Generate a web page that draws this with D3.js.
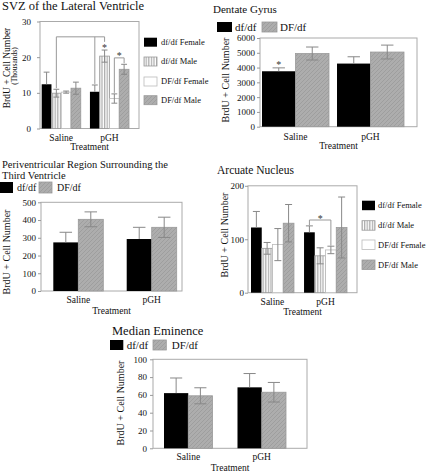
<!DOCTYPE html>
<html><head><meta charset="utf-8">
<script src="https://cdn.jsdelivr.net/npm/d3@7"></script>
<style>body{margin:0;background:#fff}svg{display:block}</style>
</head><body>
<script>
// ---------------- DATA ----------------
const categories = ["Saline", "pGH"];
const seriesFour = ["df/df Female", "df/df Male", "DF/df Female", "DF/df Male"];
const seriesTwo = ["df/df", "DF/df"];

// SVZ of the Lateral Ventricle (thousands) - [series][category]
const svzMeans = [[12.4, 10.3], [9.9, 20.3], [10.2, 8.4], [11.3, 16.6]];
const svzErrors = [[3.4, 1.9], [1.1, 1.7], [0.3, 1.3], [1.7, 1.4]];
const svzTicks = [0, 10, 20, 30];

// Dentate Gyrus
const dgMeans = [[3750, 4270], [4950, 5050]];
const dgErrors = [[230, 460], [440, 470]];
const dgTicks = [0, 1000, 2000, 3000, 4000, 5000, 6000];

// Periventricular Region
const pvMeans = [[274, 293], [404, 359]];
const pvErrors = [[57, 66], [42, 57]];
const pvTicks = [0, 100, 200, 300, 400, 500];

// Arcuate Nucleus
const arcMeans = [[122, 113], [83, 69], [90, 80], [130, 122]];
const arcErrors = [[30, 12], [11, 15], [30, 7], [35, 57]];
const arcTicks = [0, 100, 200];

// Median Eminence
const meMeans = [[62, 68.5], [59, 63]];
const meErrors = [[17, 15.5], [9, 11]];
const meTicks = [0, 20, 40, 60, 80, 100];

// significance annotations (data units)
const svzBrackets = [
  {y: 25.7, legs: [{c: "Saline", s: 1, to: 11.3}, {c: "pGH", s: 0, to: 12.5}, {c: "pGH", s: 1, to: 24.3}], star: {c: "pGH", s: 1, y: 23.0}},
  {y: 19.8, legs: [{c: "pGH", s: 2, to: 10.0}, {c: "pGH", s: 3, to: 18.3}], star: {y: 20.8}}
];
const dgBrackets = [{legs: [], star: {c: "Saline", s: 0, y: 4330}}];
const arcBrackets = [
  {y: 136, legs: [{c: "pGH", s: 0, to: 126}, {c: "pGH", s: 2, to: 88}], star: {y: 142}}
];

// ---------------- DRAW ----------------
const W = 427, H = 472;
const svg = d3.select("body").append("svg").attr("width", W).attr("height", H)
  .style("font-family", "'Liberation Serif','Times New Roman',Times,serif");

const defs = svg.append("defs");
const vs = defs.append("pattern").attr("id", "vstripe").attr("patternUnits", "userSpaceOnUse")
  .attr("width", 2.6).attr("height", 4);
vs.append("rect").attr("width", 2.6).attr("height", 4).attr("fill", "#fff");
vs.append("line").attr("x1", 0.7).attr("x2", 0.7).attr("y1", 0).attr("y2", 4)
  .attr("stroke", "#8c8c8c").attr("stroke-width", 0.9);
const ht = defs.append("pattern").attr("id", "hatch").attr("patternUnits", "userSpaceOnUse")
  .attr("width", 4).attr("height", 4);
ht.append("rect").attr("width", 4).attr("height", 4).attr("fill", "#adadad");
ht.append("path").attr("d", "M-1,1 l2,-2 M0,4 l4,-4 M3,5 l2,-2")
  .attr("stroke", "#9b9b9b").attr("stroke-width", 0.8);

const styleFour = [
  {fill: "#000", stroke: "none", upOnly: true},
  {fill: "url(#vstripe)", stroke: "#999"},
  {fill: "#fff", stroke: "#bbb"},
  {fill: "url(#hatch)", stroke: "#999"}
];
const styleTwo = [styleFour[0], styleFour[3]];

function panel(o) {
  const g = svg.append("g");
  const x0 = d3.scaleBand().domain(categories).range(o.groupRange).paddingInner(o.pad);
  const x1 = d3.scaleBand().domain(d3.range(o.series.length)).range([0, x0.bandwidth()]);
  const y = d3.scaleLinear().domain([0, d3.max(o.ticks)]).range([o.fy1, o.fy0]);
  const bx = (c, s) => x0(c) + x1(s) + x1.bandwidth() / 2;

  // frame
  g.append("rect").attr("x", o.fx0).attr("y", y(d3.max(o.ticks)))
    .attr("width", o.fx1 - o.fx0).attr("height", y(0) - y(d3.max(o.ticks)))
    .attr("fill", "none").attr("stroke", "#aaa").attr("stroke-width", 1);

  // y axis
  const ax = g.append("g").attr("transform", `translate(${o.fx0},0)`)
    .call(d3.axisLeft(y).tickValues(o.ticks).tickSize(3).tickPadding(o.tp).tickFormat(d3.format("d")));
  ax.select(".domain").remove();
  ax.selectAll("line").attr("stroke", "#999");
  ax.selectAll("text").attr("font-size", o.tickFs || 9).attr("fill", "#111")
    .style("font-family", "'Liberation Serif','Times New Roman',serif");

  // bars
  o.series.forEach((sn, si) => {
    const st = o.styles[si];
    categories.forEach((c, ci) => {
      const v = o.means[si][ci];
      g.append("rect").attr("x", x0(c) + x1(si)).attr("y", y(v))
        .attr("width", x1.bandwidth()).attr("height", y(0) - y(v))
        .attr("fill", st.fill).attr("stroke", st.stroke).attr("stroke-width", 0.8);
    });
  });
  // error bars
  o.series.forEach((sn, si) => {
    const st = o.styles[si];
    categories.forEach((c, ci) => {
      const v = o.means[si][ci], e = o.errors[si][ci];
      const cx = bx(c, si), hw = x1.bandwidth() * o.cap / 2;
      const lo = st.upOnly ? v : v - e, hi = v + e;
      g.append("line").attr("x1", cx).attr("x2", cx).attr("y1", y(lo)).attr("y2", y(hi))
        .attr("stroke", "#888").attr("stroke-width", 1);
      g.append("line").attr("x1", cx - hw).attr("x2", cx + hw).attr("y1", y(hi)).attr("y2", y(hi))
        .attr("stroke", "#888").attr("stroke-width", 1);
      if (!st.upOnly)
        g.append("line").attr("x1", cx - hw).attr("x2", cx + hw).attr("y1", y(lo)).attr("y2", y(lo))
          .attr("stroke", "#888").attr("stroke-width", 1);
    });
  });

  // brackets & stars
  (o.brackets || []).forEach(b => {
    const xs = b.legs.map(l => bx(l.c, l.s));
    if (b.legs.length) {
      g.append("line").attr("x1", d3.min(xs)).attr("x2", d3.max(xs)).attr("y1", y(b.y)).attr("y2", y(b.y))
        .attr("stroke", "#999").attr("stroke-width", 1);
      b.legs.forEach((l, i) => g.append("line").attr("x1", xs[i]).attr("x2", xs[i])
        .attr("y1", y(b.y)).attr("y2", y(l.to)).attr("stroke", "#999").attr("stroke-width", 1));
    }
    const sx = b.star.c ? bx(b.star.c, b.star.s) : (d3.min(xs) + d3.max(xs)) / 2;
    g.append("text").attr("x", sx).attr("y", y(b.star.y) + 5).attr("text-anchor", "middle")
      .attr("font-size", 10).attr("fill", "#333").text("*");
  });

  // category labels
  categories.forEach(c => g.append("text").attr("x", x0(c) + x0.bandwidth() / 2).attr("y", o.catY)
    .attr("text-anchor", "middle").attr("font-size", o.catFs || 9.5).attr("fill", "#111").text(c));
  g.append("text").attr("x", (o.fx0 + o.fx1) / 2).attr("y", o.trY).attr("text-anchor", "middle")
    .attr("font-size", o.catFs || 9.5).attr("fill", "#111").text("Treatment");

  // y label
  g.append("text").attr("transform", `translate(${o.ylX},${o.ylY}) rotate(-90)`).attr("text-anchor", "middle")
    .attr("font-size", o.ylFs || 10).attr("fill", "#111").text("BrdU + Cell Number");
  if (o.yl2) g.append("text").attr("transform", `translate(${o.yl2.x},${o.yl2.y}) rotate(-90)`)
    .attr("text-anchor", "middle").attr("font-size", o.yl2.fs).attr("fill", "#111").text(o.yl2.t);

  // title
  o.title.forEach((t, i) => g.append("text").attr("x", o.tX).attr("y", o.tY[i])
    .attr("font-size", o.tFs).attr("fill", "#111").text(t));

  // legend
  o.legend.forEach((l, si) => {
    const st = o.styles[si];
    g.append("rect").attr("x", l.x).attr("y", l.y).attr("width", o.lw).attr("height", o.lh)
      .attr("fill", st.fill).attr("stroke", st.stroke === "none" ? "none" : st.stroke).attr("stroke-width", 0.8);
    g.append("text").attr("x", l.tx).attr("y", l.y + o.lh / 2).attr("dy", "0.35em")
      .attr("font-size", o.lFs).attr("fill", "#111").text(o.series[si]);
  });
}

// Panel 1: SVZ
panel({
  series: seriesFour, styles: styleFour, means: svzMeans, errors: svzErrors, ticks: svzTicks,
  fx0: 40, fx1: 139, fy0: 21.5, fy1: 128.5, groupRange: [41.7, 129], pad: 0.19, cap: 0.6, tp: 6,
  brackets: svzBrackets, catY: 141, trY: 149.5,
  ylX: 10, ylY: 68, ylFs: 9.5, yl2: {x: 16.5, y: 66, fs: 7.5, t: "(Thousands)"},
  title: ["SVZ of the Lateral Ventricle"], tX: 2, tY: [10], tFs: 12.5,
  lw: 13, lh: 9, lFs: 8.5,
  legend: [{x: 144, y: 37.7, tx: 161}, {x: 144, y: 57, tx: 161}, {x: 144, y: 77, tx: 161}, {x: 144, y: 95.7, tx: 161}]
});

// Panel 2: Dentate Gyrus
panel({
  series: seriesTwo, styles: styleTwo, means: dgMeans, errors: dgErrors, ticks: dgTicks,
  fx0: 260, fx1: 417, fy0: 38, fy1: 126.7, groupRange: [262, 404], pad: 0.107, cap: 0.37, tp: 2,
  brackets: dgBrackets, catY: 140, trY: 149,
  ylX: 229, ylY: 80,
  title: ["Dentate Gyrus"], tX: 213, tY: [12.5], tFs: 11,
  lw: 15, lh: 10, lFs: 11,
  legend: [{x: 217, y: 22, tx: 235}, {x: 262, y: 22, tx: 280}]
});

// Panel 3: Periventricular
panel({
  series: seriesTwo, styles: styleTwo, means: pvMeans, errors: pvErrors, ticks: pvTicks,
  fx0: 41, fx1: 182, fy0: 202.3, fy1: 291, groupRange: [53.3, 176.7], pad: 0.319, cap: 0.5, tp: 2,
  catY: 303, trY: 314,
  ylX: 10, ylY: 252,
  title: ["Periventricular Region Surrounding the", "Third Ventricle"], tX: 2, tY: [167.5, 179], tFs: 10.5,
  lw: 13, lh: 11, lFs: 10,
  legend: [{x: 0, y: 182, tx: 17}, {x: 39, y: 182, tx: 57}]
});

// Panel 4: Arcuate Nucleus
panel({
  series: seriesFour, styles: styleFour, means: arcMeans, errors: arcErrors, ticks: arcTicks,
  fx0: 248, fx1: 357, fy0: 185.8, fy1: 292.7, groupRange: [251, 347], pad: 0.19, cap: 0.65, tp: 1,
  brackets: arcBrackets, catY: 305, trY: 314.5,
  ylX: 228, ylY: 235,
  title: ["Arcuate Nucleus"], tX: 217, tY: [174], tFs: 11.5,
  lw: 13, lh: 9.5, lFs: 8.5,
  legend: [{x: 362, y: 200.7, tx: 378}, {x: 362, y: 220.7, tx: 378}, {x: 362, y: 240, tx: 378}, {x: 362, y: 260, tx: 378}]
});

// Panel 5: Median Eminence
panel({
  series: seriesTwo, styles: styleTwo, means: meMeans, errors: meErrors, ticks: meTicks,
  fx0: 153, fx1: 307, fy0: 359.3, fy1: 448.3, groupRange: [164, 286], pad: 0.34, cap: 0.5, tp: 3,
  catY: 460, trY: 470.5,
  ylX: 124, ylY: 403,
  title: ["Median Eminence"], tX: 112, tY: [335], tFs: 12.5,
  lw: 13.3, lh: 10, lFs: 11,
  legend: [{x: 110, y: 340, tx: 126.7}, {x: 153, y: 340, tx: 171.7}]
});
</script>
</body></html>
